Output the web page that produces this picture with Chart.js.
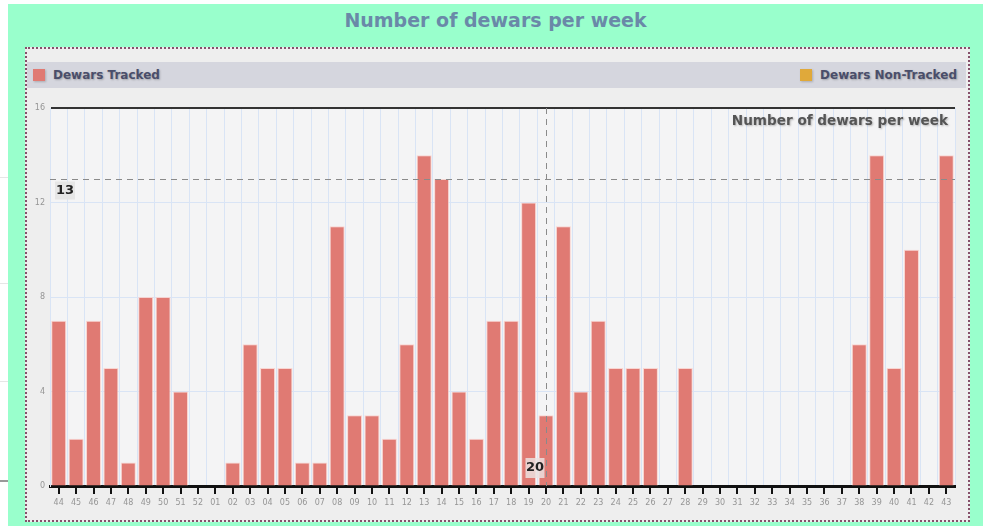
<!DOCTYPE html>
<html lang="en">
<head>
    <meta charset="UTF-8">
    <title>Number of dewars per week</title>
    <script src="https://cdn.jsdelivr.net/npm/chart.js@4"></script>
    <style>
        body {
            margin: 0;
            width: 986px;
            height: 528px;
            background-color: #fff;
            font-family: "DejaVu Sans", Verdana, sans-serif;
            position: relative;
            overflow: hidden;
        }
        .page {
            position: absolute;
            left: 8px; top: 4px;
            width: 975px; height: 522px;
            background-color: #99ffcc;
        }
        .title {
            position: absolute;
            left: 8px; top: 8px;
            width: 975px;
            text-align: center;
            font-weight: bold;
            font-size: 19px;
            line-height: 24px;
            color: #6a89a8;
        }
        .panel {
            position: absolute;
            left: 25px; top: 47px;
            width: 941px; height: 471px;
            background-color: #eeeeee;
            border: 2px dotted #85506a;
        }
        .legend {
            position: absolute;
            left: 27px; top: 62px;
            width: 939px; height: 26px;
            background-color: #d5d6de;
            font-weight: bold;
            font-size: 12px;
            color: #4a4e6a;
            text-shadow: 1px 1px 2px rgba(0,0,0,0.25);
        }
        .legend span.item {
            position: absolute;
            top: 6px;
            white-space: nowrap;
        }
        .legend span.box {
            display: inline-block;
            width: 12px; height: 12px;
            vertical-align: -2px;
            margin-right: 8px;
            box-shadow: 1px 1px 2px rgba(0,0,0,0.2);
        }
        .edge {
            position: absolute;
            left: 0; width: 8px;
            background-color: #e6e6e6;
            height: 1px;
        }
        canvas#chart {
            position: absolute;
            left: 0; top: 0;
        }
    </style>
</head>
<body>
    <div class="edge" style="top:177px"></div>
    <div class="edge" style="top:283px"></div>
    <div class="edge" style="top:381px"></div>
    <div class="edge" style="top:480px; height:2px; background-color:#999"></div>
    <div class="page"></div>
    <div class="title">Number of dewars per week</div>
    <div class="panel"></div>
    <div class="legend" id="legend"></div>
    <canvas id="chart" width="986" height="528"></canvas>

    <script>
        const weeks = ['44', '45', '46', '47', '48', '49', '50', '51', '52',
            '01', '02', '03', '04', '05', '06', '07', '08', '09', '10',
            '11', '12', '13', '14', '15', '16', '17', '18', '19', '20',
            '21', '22', '23', '24', '25', '26', '27', '28', '29', '30',
            '31', '32', '33', '34', '35', '36', '37', '38', '39', '40',
            '41', '42', '43'];
        const tracked = [7, 2, 7, 5, 1, 8, 8, 4, 0,
            0, 1, 6, 5, 5, 1, 1, 11, 3, 3,
            2, 6, 14, 13, 4, 2, 7, 7, 12, 3,
            11, 4, 7, 5, 5, 5, 0, 5, 0, 0,
            0, 0, 0, 0, 0, 0, 0, 6, 14, 5,
            10, 0, 14];
        const nonTracked = [0, 0, 0, 0, 0, 0, 0, 0, 0,
            0, 0, 0, 0, 0, 0, 0, 0, 0, 0,
            0, 0, 0, 0, 0, 0, 0, 0, 0, 0,
            0, 0, 0, 0, 0, 0, 0, 0, 0, 0,
            0, 0, 0, 0, 0, 0, 0, 0, 0, 0,
            0, 0, 0];
        const yTicks = [0, 4, 8, 12, 16];
        const crossValue = 13;
        const crossWeek = '20';
        const innerTitle = 'Number of dewars per week';

        // crosshair, tick marks at category centres and the inner title
        const overlay = {
            id: 'overlay',
            beforeDraw(chart) {
                const ctx = chart.ctx;
                const area = chart.chartArea;
                ctx.save();
                ctx.fillStyle = '#f4f4f5';
                ctx.fillRect(area.left, area.top, area.right - area.left, area.bottom - area.top);
                ctx.restore();
            },
            afterDraw(chart) {
                const ctx = chart.ctx;
                const area = chart.chartArea;
                const x = chart.scales.x;
                const y = chart.scales.y;
                ctx.save();

                // tick marks under the axis
                ctx.fillStyle = '#111';
                for (let i = 0; i < weeks.length; i++) {
                    const px = Math.round(x.getPixelForValue(i));
                    ctx.fillRect(px - 1, area.bottom, 2, 8);
                }

                // dashed crosshair
                ctx.strokeStyle = '#8a8a8a';
                ctx.lineWidth = 1;
                ctx.setLineDash([6, 5]);
                const cy = Math.round(y.getPixelForValue(crossValue)) + 0.5;
                ctx.beginPath();
                ctx.moveTo(area.left, cy);
                ctx.lineTo(area.right, cy);
                ctx.stroke();
                const cx = Math.round(x.getPixelForValue(weeks.indexOf(crossWeek))) + 0.5;
                ctx.beginPath();
                ctx.moveTo(cx, area.top);
                ctx.lineTo(cx, area.bottom);
                ctx.stroke();
                ctx.setLineDash([]);

                // crosshair labels
                ctx.font = 'bold 13px "DejaVu Sans", sans-serif';
                ctx.textAlign = 'center';
                ctx.textBaseline = 'middle';
                ctx.fillStyle = 'rgba(228,228,228,0.9)';
                ctx.fillRect(area.left + 5, cy + 2, 20, 18);
                ctx.fillStyle = '#222';
                ctx.fillText(String(crossValue), area.left + 15, cy + 11);
                ctx.fillStyle = 'rgba(235,225,223,0.85)';
                ctx.fillRect(cx - 21, area.bottom - 28, 19, 20);
                ctx.fillStyle = '#222';
                ctx.fillText(crossWeek, cx - 11.5, area.bottom - 18);

                // title inside the plot
                ctx.font = 'bold 13.6px "DejaVu Sans", sans-serif';
                ctx.textAlign = 'right';
                ctx.fillStyle = '#555';
                ctx.shadowColor = 'rgba(0,0,0,0.25)';
                ctx.shadowBlur = 2;
                ctx.shadowOffsetX = 1;
                ctx.shadowOffsetY = 1;
                ctx.fillText(innerTitle, area.right - 7, area.top + 13);
                ctx.restore();
            }
        };

        const chart = new Chart(document.getElementById('chart'), {
            type: 'bar',
            data: {
                labels: weeks,
                datasets: [{
                    label: 'Dewars Tracked',
                    data: tracked,
                    backgroundColor: '#e07a73',
                    borderColor: 'rgba(250,205,200,0.8)',
                    borderWidth: 1,
                    borderSkipped: 'bottom',
                    barPercentage: 0.86,
                    categoryPercentage: 1.0
                }, {
                    label: 'Dewars Non-Tracked',
                    data: nonTracked,
                    backgroundColor: '#e0a93a',
                    borderWidth: 0,
                    barPercentage: 0.86,
                    categoryPercentage: 1.0
                }]
            },
            options: {
                responsive: false,
                animation: false,
                layout: {
                    padding: { left: 28, right: 31, top: 108, bottom: 8 }
                },
                plugins: {
                    legend: { display: false },
                    tooltip: { enabled: false }
                },
                scales: {
                    x: {
                        stacked: true,
                        grid: {
                            offset: true,
                            color: '#d9e4f5',
                            drawTicks: false
                        },
                        border: { color: '#111', width: 3 },
                        ticks: {
                            padding: 12,
                            maxRotation: 0,
                            autoSkip: false,
                            color: '#959595',
                            font: { family: '"DejaVu Sans", sans-serif', size: 8 }
                        },
                        afterFit(scale) { scale.height = 34; }
                    },
                    y: {
                        stacked: true,
                        min: yTicks[0],
                        max: yTicks[yTicks.length - 1],
                        afterBuildTicks(scale) {
                            scale.ticks = yTicks.map(v => ({ value: v }));
                        },
                        grid: {
                            drawTicks: false,
                            color: ctx => ctx.tick.value === 16 ? '#333' : (ctx.tick.value === 0 ? 'rgba(0,0,0,0)' : '#d9e4f5'),
                            lineWidth: ctx => ctx.tick.value === 16 ? 2 : 1
                        },
                        border: { color: '#d9e4f5', width: 1 },
                        ticks: {
                            padding: 5,
                            color: '#959595',
                            font: { family: '"DejaVu Sans", sans-serif', size: 8 }
                        },
                        afterFit(scale) { scale.width = 22; }
                    }
                }
            },
            plugins: [overlay]
        });

        // legend bar: first series on the left, second on the right
        const legend = document.getElementById('legend');
        chart.data.datasets.forEach((ds, i) => {
            const item = document.createElement('span');
            item.className = 'item';
            if (i === 0) item.style.left = '6px';
            else item.style.right = '9px';
            item.innerHTML = '<span class="box" style="background-color:' + ds.backgroundColor + '"></span>' + ds.label;
            legend.appendChild(item);
        });
    </script>
</body>
</html>
